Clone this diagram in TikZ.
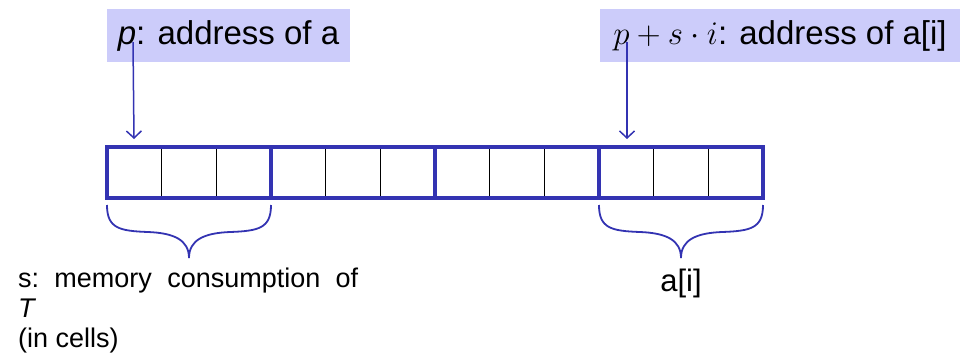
\documentclass[tikz,border=0pt]{standalone}
\usepackage{graphicx}
\usepackage{fontspec}
\setmainfont{Liberation Sans}
\usetikzlibrary{arrows.meta}
\definecolor{struct}{rgb}{0.2,0.2,0.7}
\definecolor{boxfill}{rgb}{0.8,0.8,0.98}
\begin{document}
\begin{tikzpicture}[x=1pt,y=-1pt,
  labelbox/.style={fill=boxfill,inner sep=0pt,minimum height=53pt,font=\fontsize{33}{36}\selectfont},
  ptr/.style={struct,line width=1.5pt,-{Straight Barb[length=7pt,width=15pt]}},
  group/.style={draw=struct,line width=4pt},
  cellsep/.style={draw=black,line width=1pt},
  bracestyle/.style={draw=struct,line width=1.8pt},
  plain/.style={font=\fontsize{31}{34}\selectfont,inner sep=0pt}]
\useasboundingbox (0,0) rectangle (966,360);
% label boxes
\node[labelbox,minimum width=243pt] (la) at (228.5,35.5) {\textit{p}: address of a};
\node[labelbox,minimum width=360pt] (lb) at (780,35.5) {\scalebox{1.326}{\fontsize{24.88}{28}\selectfont$p+s\cdot i$}: address of a[i]};
% cells
\foreach \k in {1,2,4,5,7,8,10,11} {
  \draw[cellsep] ({107+54.667*\k},147) -- ({107+54.667*\k},198);
}
\foreach \g in {0,1,2,3} {
  \draw[group] ({107+164*\g},147) rectangle ({271+164*\g},198);
}
\coordinate (t1) at (134,139);
\coordinate (t2) at (627,139);
\coordinate (s1) at (133,42);
\coordinate (s2) at (627,42);
\draw[ptr] (s1) -- (t1);
\draw[ptr] (s2) -- (t2);
% braces
\newcommand\mybrace[2]{%
  \pgfmathsetmacro\xm{(#1+#2)/2}
  \draw[bracestyle] (#1,205) .. controls (#1,228) and ({#1+12},231) .. ({(#1+\xm)/2},232)
     .. controls ({\xm-15},233) and (\xm,240) .. (\xm,258);
  \draw[bracestyle] (#2,205) .. controls (#2,228) and ({#2-12},231) .. ({(#2+\xm)/2},232)
     .. controls ({\xm+15},233) and (\xm,240) .. (\xm,258);
}
\mybrace{107}{271}
\mybrace{599}{763}
\node[plain,anchor=north] (ai) at (681,269) {a[i]};
\node[anchor=base west,inner sep=0pt,font=\fontsize{27}{30}\selectfont,align=left] (sl) at (18,347)
  {\hbox to 340pt{s:\hfill memory\hfill consumption\hfill of}\\ \textit{T}\\ (in cells)};
\end{tikzpicture}
\end{document}
